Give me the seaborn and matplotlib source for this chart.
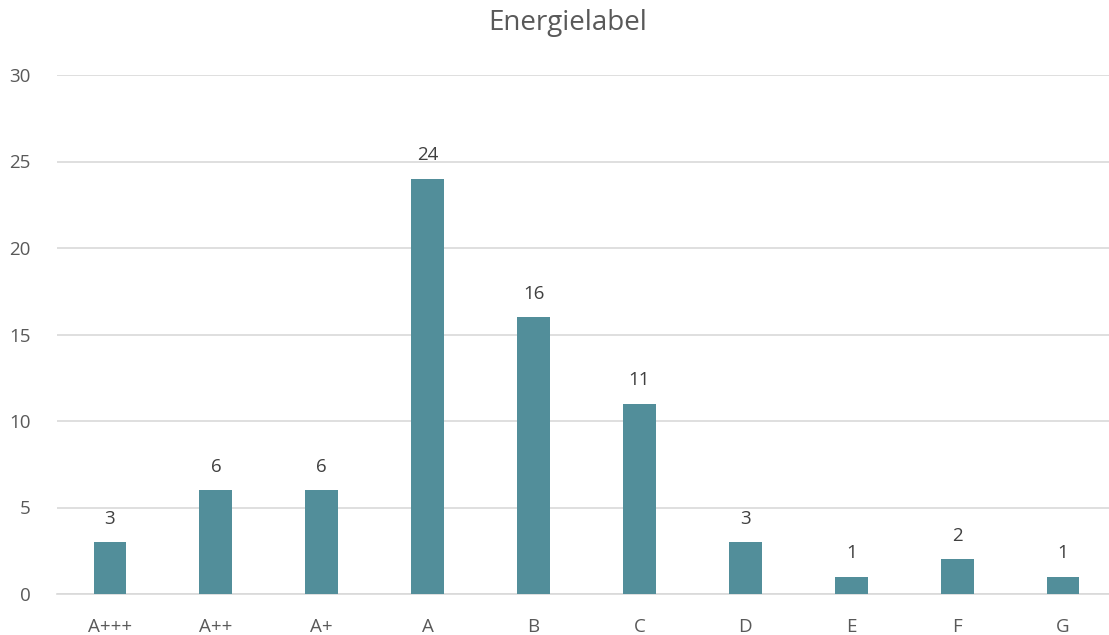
import matplotlib
matplotlib.use("Agg")
import matplotlib.pyplot as plt
import seaborn as sns
import pandas as pd

categories = ["A+++", "A++", "A+", "A", "B", "C", "D", "E", "F", "G"]
values = [3, 6, 6, 24, 16, 11, 3, 1, 2, 1]
yticks = [0, 5, 10, 15, 20, 25, 30]

sns.set_theme(style="white")
plt.rcParams['font.family'] = ['Open Sans', 'DejaVu Sans']

df = pd.DataFrame({"label": categories, "count": values})

W, H = 1109, 635
fig = plt.figure(figsize=(W / 100, H / 100), dpi=100)
left, right = 57, 1116
top, bottom = 75, 594
ax = fig.add_axes([left / W, 1 - bottom / H, (right - left) / W, (bottom - top) / H])

sns.barplot(data=df, x="label", y="count", color="#528E9A", width=0.31,
            saturation=1, linewidth=0, ax=ax, zorder=3)

ax.set_xlim(-0.5, len(categories) - 0.5)
ax.set_ylim(0, 30)
ax.set_yticks(yticks)
ax.yaxis.grid(True, color="#D9D9D9", linewidth=1.2, zorder=0)
ax.set_axisbelow(True)
for s in ["top", "right", "left"]:
    ax.spines[s].set_visible(False)
ax.spines["bottom"].set_color("#D9D9D9")
ax.spines["bottom"].set_linewidth(1.2)
ax.set_xlabel("")
ax.set_ylabel("")
ax.tick_params(axis="both", length=0, labelsize=13.5, labelcolor="#595959")
ax.tick_params(axis="y", pad=19)
ax.tick_params(axis="x", pad=17)

for i, v in enumerate(values):
    ax.annotate(str(v), (i, v), xytext=(0, 10.5), textcoords="offset points",
                ha="center", va="bottom", fontsize=13.5, color="#404040")

fig.text(568 / W, 1 - 23 / H, "Energielabel", ha="center", va="center",
         fontsize=20, color="#595959")

fig.savefig("out.png", dpi=100)
